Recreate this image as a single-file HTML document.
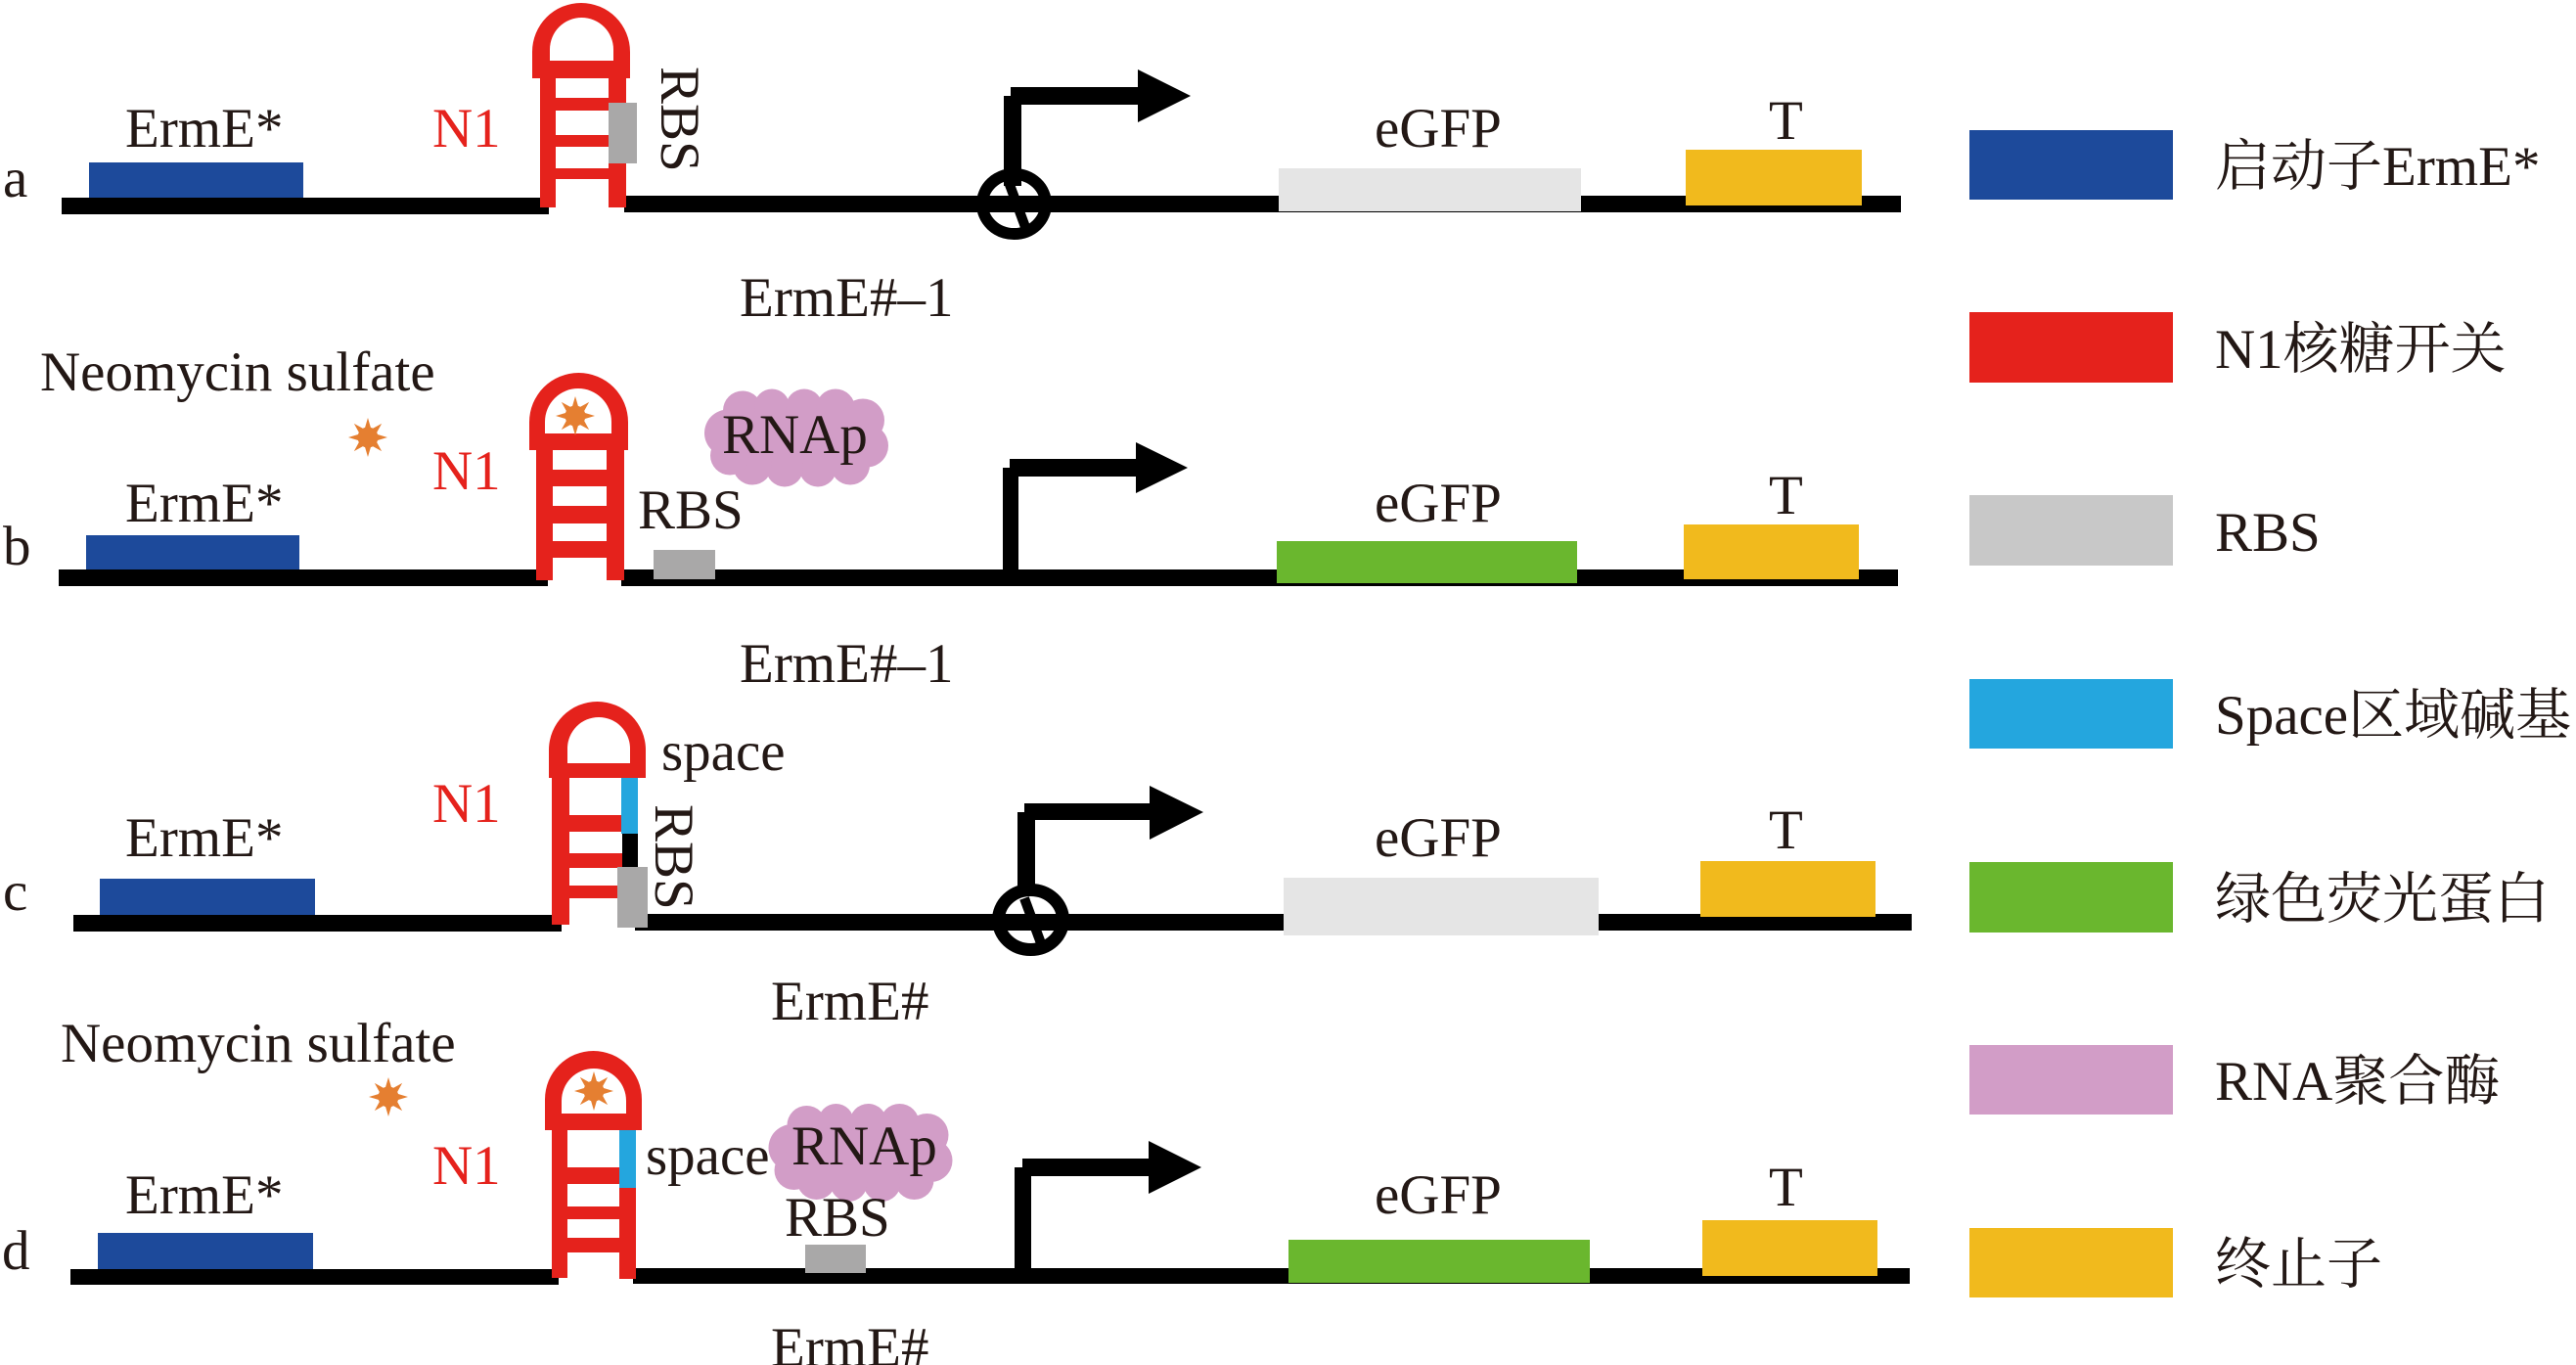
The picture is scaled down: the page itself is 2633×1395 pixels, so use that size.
<!DOCTYPE html>
<html>
<head>
<meta charset="utf-8">
<style>
  html,body{margin:0;padding:0;background:#fff;}
  body{width:2633px;height:1395px;overflow:hidden;}
  svg{display:block;}
  text{font-family:"Liberation Serif","Noto Serif CJK SC",serif;font-size:57px;fill:#231815;}
  .red{fill:#e5221c;}
</style>
</head>
<body>
<svg width="2633" height="1395" viewBox="0 0 2633 1395" xmlns="http://www.w3.org/2000/svg">
  <rect width="2633" height="1395" fill="#fff"/>

  <!-- ================= PANEL A ================= -->
  <text x="3" y="201">a</text>
  <rect x="91" y="166" width="219" height="36" fill="#1d4a9b"/>
  <text x="128" y="150">ErmE*</text>
  <text x="442" y="150" class="red">N1</text>
  <rect x="63" y="202" width="498" height="17" fill="#000"/>
  <rect x="638" y="200" width="1305" height="17" fill="#000"/>
  <!-- stem loop -->
  <path fill="#e5221c" fill-rule="evenodd" d="M544,80 L544,53 A50,50 0 0 1 644,53 L644,80 Z M562,62 L562,50.5 A32.5,32.5 0 0 1 627,50.5 L627,62 Z"/>
  <rect x="552" y="80" width="16" height="132" fill="#e5221c"/>
  <rect x="622" y="80" width="18" height="132" fill="#e5221c"/>
  <rect x="552" y="100" width="88" height="13" fill="#e5221c"/>
  <rect x="552" y="138" width="88" height="12" fill="#e5221c"/>
  <rect x="552" y="172" width="88" height="11" fill="#e5221c"/>
  <rect x="622" y="105" width="29" height="62" fill="#a9a8a8"/>
  <text transform="translate(676,68) rotate(90)">RBS</text>
  <text x="756" y="323">ErmE#–1</text>
  <!-- promoter arrow with block -->
  <rect x="1026" y="98" width="18" height="92" fill="#000"/>
  <rect x="1033" y="89" width="134" height="18" fill="#000"/>
  <polygon points="1163,71 1217,98 1163,125" fill="#000"/>
  <ellipse cx="1036.5" cy="208.5" rx="32.5" ry="30.5" fill="none" stroke="#000" stroke-width="12"/>
  <line x1="1031" y1="186" x2="1048" y2="232" stroke="#000" stroke-width="10"/>
  <rect x="1307" y="172" width="309" height="44" fill="#e5e5e5"/>
  <text x="1405" y="150">eGFP</text>
  <rect x="1723" y="153" width="180" height="57" fill="#f1ba1d"/>
  <text x="1808" y="142">T</text>

  <!-- ================= PANEL B ================= -->
  <text x="41" y="399">Neomycin sulfate</text>
  <g transform="translate(376,447)" fill="#e57f31">
    <polygon points="0,-20 3.44,-8.31 14.14,-14.14 8.31,-3.44 20,0 8.31,3.44 14.14,14.14 3.44,8.31 0,20 -3.44,8.31 -14.14,14.14 -8.31,3.44 -20,0 -8.31,-3.44 -14.14,-14.14 -3.44,-8.31"/>
    <circle r="10.5"/>
  </g>
  <text x="442" y="500" class="red">N1</text>
  <text x="128" y="533">ErmE*</text>
  <text x="3" y="577">b</text>
  <rect x="88" y="547" width="218" height="35" fill="#1d4a9b"/>
  <rect x="60" y="582" width="500" height="17" fill="#000"/>
  <rect x="635" y="582" width="1305" height="17" fill="#000"/>
  <path fill="#e5221c" fill-rule="evenodd" d="M541,460 L541,431.5 A50.5,50.5 0 0 1 642,431.5 L642,460 Z M557,443 L557,431 A34,34 0 0 1 625,431 L625,443 Z"/>
  <rect x="548" y="460" width="17" height="133" fill="#e5221c"/>
  <rect x="620" y="460" width="18" height="133" fill="#e5221c"/>
  <rect x="548" y="480" width="90" height="17" fill="#e5221c"/>
  <rect x="548" y="517" width="90" height="18" fill="#e5221c"/>
  <rect x="548" y="553" width="90" height="17" fill="#e5221c"/>
  <g transform="translate(588,425)" fill="#e57f31">
    <polygon points="0,-20 3.44,-8.31 14.14,-14.14 8.31,-3.44 20,0 8.31,3.44 14.14,14.14 3.44,8.31 0,20 -3.44,8.31 -14.14,14.14 -8.31,3.44 -20,0 -8.31,-3.44 -14.14,-14.14 -3.44,-8.31"/>
    <circle r="10.5"/>
  </g>
  <text x="652" y="540">RBS</text>
  <rect x="668" y="562" width="63" height="30" fill="#a9a8a8"/>
  <!-- cloud -->
  <g transform="translate(814,447.5)" fill="#d29dc7">
    <ellipse rx="75" ry="35"/>
    <circle cx="-70" cy="-5" r="24"/>
    <circle cx="-55" cy="-28" r="20"/>
    <circle cx="-25" cy="-32" r="18"/>
    <circle cx="8" cy="-31" r="19"/>
    <circle cx="40" cy="-30" r="20"/>
    <circle cx="68" cy="-18" r="22"/>
    <circle cx="72" cy="8" r="22"/>
    <circle cx="55" cy="28" r="20"/>
    <circle cx="22" cy="31" r="19"/>
    <circle cx="-12" cy="31" r="19"/>
    <circle cx="-45" cy="28" r="20"/>
    <circle cx="-68" cy="18" r="20"/>
  </g>
  <text x="738" y="463">RNAp</text>
  <rect x="1025" y="478" width="16" height="112" fill="#000"/>
  <rect x="1032" y="469" width="131" height="18" fill="#000"/>
  <polygon points="1161,452 1214,478 1161,504" fill="#000"/>
  <rect x="1305" y="553" width="307" height="43" fill="#6ab72e"/>
  <text x="1405" y="533">eGFP</text>
  <rect x="1721" y="536" width="179" height="56" fill="#f1ba1d"/>
  <text x="1808" y="525">T</text>
  <text x="756" y="697">ErmE#–1</text>

  <!-- ================= PANEL C ================= -->
  <text x="3" y="930">c</text>
  <text x="128" y="875">ErmE*</text>
  <rect x="102" y="898" width="220" height="37" fill="#1d4a9b"/>
  <text x="442" y="840" class="red">N1</text>
  <rect x="75" y="935" width="499" height="17" fill="#000"/>
  <rect x="649" y="934" width="1305" height="17" fill="#000"/>
  <path fill="#e5221c" fill-rule="evenodd" d="M561,795 L561,766.5 A49.5,49.5 0 0 1 660,766.5 L660,795 Z M580,780 L580,765 A32,32 0 0 1 644,765 L644,780 Z"/>
  <rect x="564" y="795" width="18" height="150" fill="#e5221c"/>
  <rect x="564" y="833" width="72" height="17" fill="#e5221c"/>
  <rect x="564" y="872" width="72" height="15" fill="#e5221c"/>
  <rect x="564" y="905" width="72" height="13" fill="#e5221c"/>
  <rect x="635" y="795" width="17" height="57" fill="#24a6de"/>
  <rect x="636" y="852" width="16" height="35" fill="#000"/>
  <rect x="631" y="886" width="31" height="62" fill="#a9a8a8"/>
  <text x="676" y="787">space</text>
  <text transform="translate(670,822) rotate(90)">RBS</text>
  <rect x="1040" y="830" width="18" height="85" fill="#000"/>
  <rect x="1047" y="821" width="130" height="17" fill="#000"/>
  <polygon points="1175,803 1230,830 1175,858" fill="#000"/>
  <ellipse cx="1053.5" cy="940" rx="33" ry="30.5" fill="none" stroke="#000" stroke-width="13"/>
  <line x1="1047" y1="918" x2="1064" y2="964" stroke="#000" stroke-width="10"/>
  <rect x="1312" y="897" width="322" height="59" fill="#e5e5e5"/>
  <text x="1405" y="875">eGFP</text>
  <rect x="1738" y="880" width="179" height="57" fill="#f1ba1d"/>
  <text x="1808" y="867">T</text>
  <text x="788" y="1042">ErmE#</text>

  <!-- ================= PANEL D ================= -->
  <text x="62" y="1085">Neomycin sulfate</text>
  <g transform="translate(397,1121)" fill="#e57f31">
    <polygon points="0,-20 3.44,-8.31 14.14,-14.14 8.31,-3.44 20,0 8.31,3.44 14.14,14.14 3.44,8.31 0,20 -3.44,8.31 -14.14,14.14 -8.31,3.44 -20,0 -8.31,-3.44 -14.14,-14.14 -3.44,-8.31"/>
    <circle r="10.5"/>
  </g>
  <text x="442" y="1210" class="red">N1</text>
  <text x="128" y="1240">ErmE*</text>
  <text x="2" y="1297">d</text>
  <rect x="100" y="1260" width="220" height="37" fill="#1d4a9b"/>
  <rect x="72" y="1297" width="499" height="16" fill="#000"/>
  <rect x="647" y="1296" width="1305" height="16" fill="#000"/>
  <path fill="#e5221c" fill-rule="evenodd" d="M557,1155 L557,1123.5 A49.5,49.5 0 0 1 656,1123.5 L656,1155 Z M574,1138 L574,1125 A33,33 0 0 1 640,1125 L640,1138 Z"/>
  <rect x="564" y="1155" width="16" height="151" fill="#e5221c"/>
  <rect x="633" y="1214" width="17" height="93" fill="#e5221c"/>
  <rect x="564" y="1193" width="70" height="17" fill="#e5221c"/>
  <rect x="564" y="1233" width="86" height="13" fill="#e5221c"/>
  <rect x="564" y="1265" width="86" height="15" fill="#e5221c"/>
  <rect x="633" y="1155" width="17" height="59" fill="#24a6de"/>
  <g transform="translate(607,1115)" fill="#e57f31">
    <polygon points="0,-20 3.44,-8.31 14.14,-14.14 8.31,-3.44 20,0 8.31,3.44 14.14,14.14 3.44,8.31 0,20 -3.44,8.31 -14.14,14.14 -8.31,3.44 -20,0 -8.31,-3.44 -14.14,-14.14 -3.44,-8.31"/>
    <circle r="10.5"/>
  </g>
  <text x="660" y="1200">space</text>
  <g transform="translate(879.5,1178)" fill="#d29dc7">
    <ellipse rx="75" ry="35"/>
    <circle cx="-70" cy="-5" r="24"/>
    <circle cx="-55" cy="-28" r="20"/>
    <circle cx="-25" cy="-32" r="18"/>
    <circle cx="8" cy="-31" r="19"/>
    <circle cx="40" cy="-30" r="20"/>
    <circle cx="68" cy="-18" r="22"/>
    <circle cx="72" cy="8" r="22"/>
    <circle cx="55" cy="28" r="20"/>
    <circle cx="22" cy="31" r="19"/>
    <circle cx="-12" cy="31" r="19"/>
    <circle cx="-45" cy="28" r="20"/>
    <circle cx="-68" cy="18" r="20"/>
  </g>
  <text x="809" y="1190">RNAp</text>
  <text x="802" y="1263">RBS</text>
  <rect x="823" y="1272" width="62" height="29" fill="#a9a8a8"/>
  <rect x="1037" y="1193" width="17" height="107" fill="#000"/>
  <rect x="1045" y="1184" width="132" height="18" fill="#000"/>
  <polygon points="1174,1166 1228,1193 1174,1220" fill="#000"/>
  <rect x="1317" y="1267" width="308" height="44" fill="#6ab72e"/>
  <text x="1405" y="1240">eGFP</text>
  <rect x="1740" y="1247" width="179" height="57" fill="#f1ba1d"/>
  <text x="1808" y="1232">T</text>
  <text x="788" y="1396">ErmE#</text>

  <!-- ================= LEGEND ================= -->
  <rect x="2013" y="133" width="208" height="71" fill="#1d4a9b"/>
  <text x="2264" y="189">启动子ErmE*</text>
  <rect x="2013" y="319" width="208" height="72" fill="#e5221c"/>
  <text x="2264" y="376">N1核糖开关</text>
  <rect x="2013" y="506" width="208" height="72" fill="#c8c8c8"/>
  <text x="2264" y="563">RBS</text>
  <rect x="2013" y="694" width="208" height="71" fill="#24a6de"/>
  <text x="2264" y="750">Space区域碱基</text>
  <rect x="2013" y="881" width="208" height="72" fill="#6ab72e"/>
  <text x="2264" y="938">绿色荧光蛋白</text>
  <rect x="2013" y="1068" width="208" height="71" fill="#d29dc7"/>
  <text x="2264" y="1124">RNA聚合酶</text>
  <rect x="2013" y="1255" width="208" height="71" fill="#f1ba1d"/>
  <text x="2264" y="1311">终止子</text>
</svg>
</body>
</html>
